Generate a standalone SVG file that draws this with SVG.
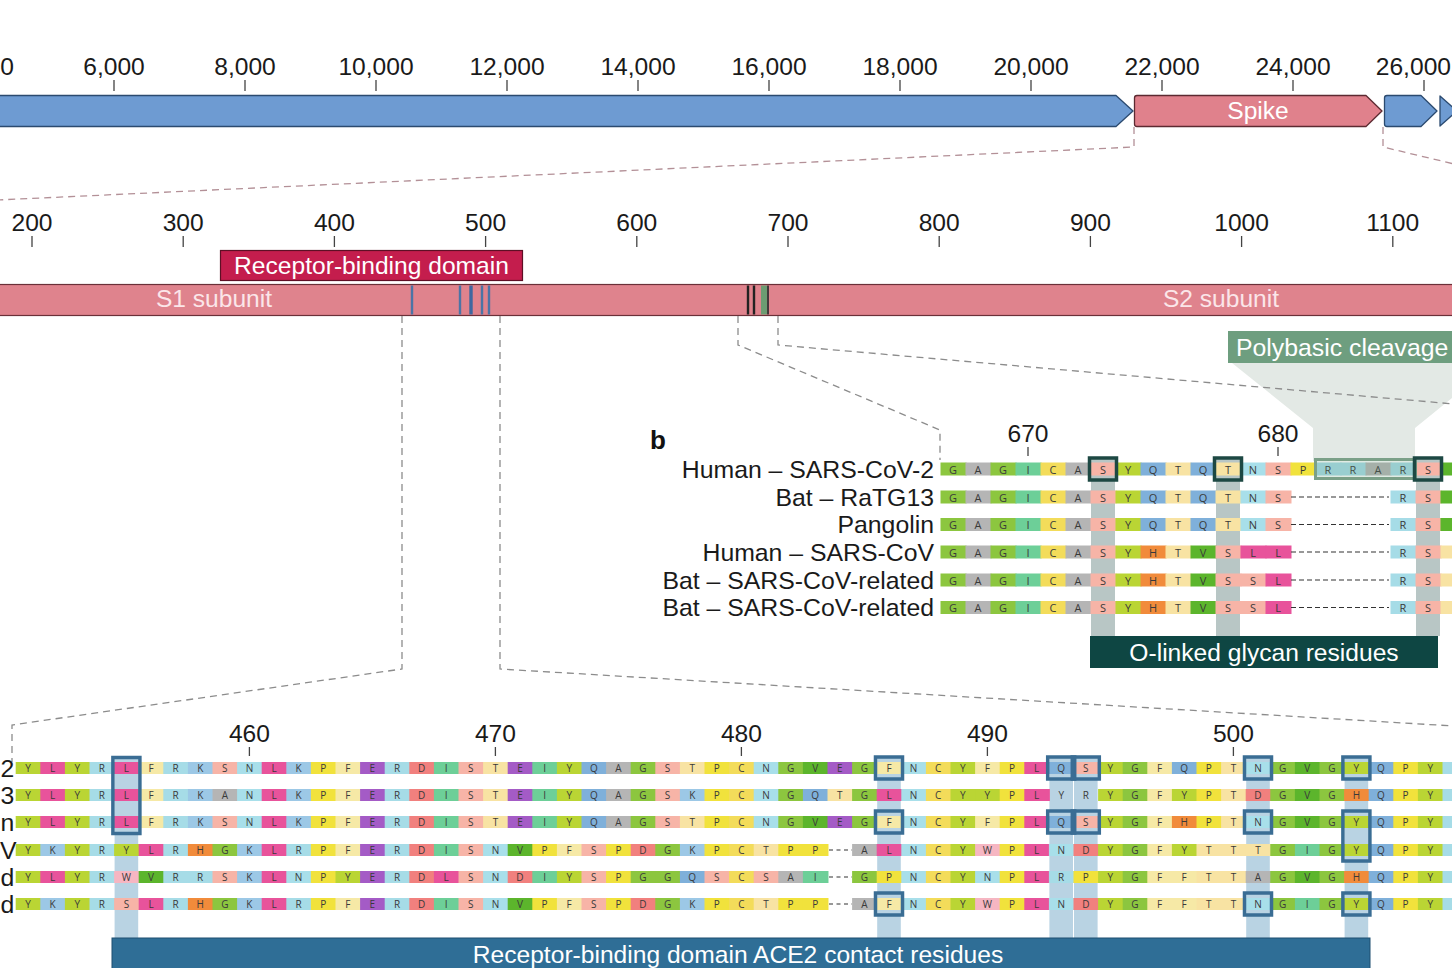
<svg xmlns="http://www.w3.org/2000/svg" width="1452" height="968" viewBox="0 0 1452 968">
<style>
text{font-family:"Liberation Sans",Arial,sans-serif}
.ax{font-size:24.6px;fill:#1a1a1a;text-anchor:middle}
.lab{font-size:24.8px;fill:#1a1a1a;text-anchor:end}
.wt{fill:#ffffff;text-anchor:middle;font-size:24.6px}
.tk{stroke:#444;stroke-width:1.3}
.aa{font-family:"Open Sans","Liberation Sans",sans-serif;font-size:10px;fill:#3a3a3a;text-anchor:middle;dominant-baseline:central}
.ab{font-family:"Open Sans","Liberation Sans",sans-serif;font-size:11px;fill:#3a3a3a;text-anchor:middle;dominant-baseline:central}
.dg{fill:none;stroke:#8c8c8c;stroke-width:1.3;stroke-dasharray:7 5}
.dp{fill:none;stroke:#b39097;stroke-width:1.3;stroke-dasharray:7 5}
.gap{stroke:#333;stroke-width:1.2;stroke-dasharray:5 3}
.rc rect{width:1.04px;height:12px}
.bc rect{width:1.04px;height:13px}
.G{fill:#8cc63f}.A{fill:#b5b5b5}.I{fill:#6dcf98}.C{fill:#f3dc5a}.S{fill:#f7b4a7}
.Y{fill:#bad534}.Q{fill:#7fb0da}.T{fill:#f8e3a3}.N{fill:#a8dfea}.P{fill:#f1e23c}
.R{fill:#a6dce7}.K{fill:#9cc8e6}.H{fill:#f18b3b}.V{fill:#5cb52c}.L{fill:#e8539b}
.E{fill:#a45bc6}.D{fill:#f1807e}.F{fill:#f6e9a6}.W{fill:#f6b6c2}
.gene-b{fill:#6e9bd2;stroke:#2b4a6f;stroke-width:1.3;stroke-linejoin:round}
.gene-s{fill:#e0818c;stroke:#5c2a31;stroke-width:1.3;stroke-linejoin:round}
.ace{fill:none;stroke:#3a6d94;stroke-width:3.5}
.gly{fill:none;stroke:#1d4843;stroke-width:3.5}
</style>

<g id="genome-axis">
<text class="ax" x="14" y="75" style="text-anchor:end">0</text>
<text class="ax" x="114" y="75">6,000</text>
<text class="ax" x="245" y="75">8,000</text>
<text class="ax" x="376" y="75">10,000</text>
<text class="ax" x="507" y="75">12,000</text>
<text class="ax" x="638" y="75">14,000</text>
<text class="ax" x="769" y="75">16,000</text>
<text class="ax" x="900" y="75">18,000</text>
<text class="ax" x="1031" y="75">20,000</text>
<text class="ax" x="1162" y="75">22,000</text>
<text class="ax" x="1293" y="75">24,000</text>
<text class="ax" x="1451" y="75" style="text-anchor:end">26,000</text>
<path class="tk" d="M114,80V91M245,80V91M376,80V91M507,80V91M638,80V91M769,80V91M900,80V91M1031,80V91M1162,80V91M1293,80V91M1424,80V91"/>
</g>

<g id="gene-orf1ab"><path class="gene-b" d="M-5,95.5H1116L1133,111L1116,126.5H-5Z"/></g>
<g id="gene-spike"><path class="gene-s" d="M1137,95.5H1366L1382,111L1366,126.5H1137Q1134.5,126.5 1134.5,124V98Q1134.5,95.5 1137,95.5Z"/><text class="wt" x="1258" y="119">Spike</text></g>
<g id="gene-orf3"><path class="gene-b" d="M1387,95.5H1421L1437,111L1421,126.5H1387Q1384.5,126.5 1384.5,124V98Q1384.5,95.5 1387,95.5Z"/></g>
<g id="gene-next"><path class="gene-b" d="M1440,96L1457,111L1440,126Z"/></g>

<g id="spike-axis">
<text class="ax" x="32" y="231">200</text>
<text class="ax" x="183.2" y="231">300</text>
<text class="ax" x="334.4" y="231">400</text>
<text class="ax" x="485.6" y="231">500</text>
<text class="ax" x="636.8" y="231">600</text>
<text class="ax" x="788" y="231">700</text>
<text class="ax" x="939.2" y="231">800</text>
<text class="ax" x="1090.4" y="231">900</text>
<text class="ax" x="1241.6" y="231">1000</text>
<text class="ax" x="1392.8" y="231">1100</text>
<path class="tk" d="M32,236V247M183.2,236V247M334.4,236V247M485.6,236V247M636.8,236V247M788,236V247M939.2,236V247M1090.4,236V247M1241.6,236V247M1392.8,236V247"/>
</g>

<g id="rbd-label">
<rect x="220.5" y="250.5" width="302" height="30" fill="#c41d4d" stroke="#5e0f25" stroke-width="1.2"/>
<text class="wt" x="371.5" y="273.5">Receptor-binding domain</text>
</g>

<g id="spike-protein">
<rect x="-3" y="284.5" width="1460" height="31" fill="#df838d" stroke="#6a3038" stroke-width="1.2"/>
<text class="wt" x="214" y="306.5" style="fill:#fbe6e9">S1 subunit</text>
<text class="wt" x="1221" y="306.5" style="fill:#fbe6e9">S2 subunit</text>
<path d="M412,285.5V314.5M460,285.5V314.5M482,285.5V314.5M489,285.5V314.5" stroke="#4b74a6" stroke-width="2.4"/>
<path d="M471,285.5V314.5" stroke="#3e67a0" stroke-width="3.4"/>
<path d="M748,285.5V314.5M754,285.5V314.5" stroke="#222" stroke-width="2.4"/>
<rect x="761" y="285.5" width="6" height="29" fill="#6c9c72"/>
<path d="M768,285.5V314.5" stroke="#333" stroke-width="1.8"/>
</g>

<g id="polybasic-label">
<polygon points="1232,363 1313,428 1313,461 1415,461 1415,428 1452,398 1452,363" fill="#e3e9e5"/>
<rect x="1228" y="331" width="232" height="32" fill="#6e9e7f"/>
<text x="1236" y="356" style="font-size:24.8px;fill:#ffffff">Polybasic cleavage</text>
</g>

<g id="connectors">
<path class="dp" d="M1134,127V147L-2,200"/>
<path class="dp" d="M1383,127V147L1454,164"/>
<path class="dg" d="M402,316V669L12,725V762"/>
<path class="dg" d="M500,316V669L1454,726"/>
<path class="dg" d="M738,316V345L940,430V460"/>
<path class="dg" d="M778,316V345L1454,404"/>
</g>

<g id="panel-b">
<text x="650" y="449" style="font-size:26px;font-weight:bold;fill:#111">b</text>
<text class="ax" x="1028" y="442">670</text>
<text class="ax" x="1278" y="442">680</text>
<path class="tk" d="M1028,447V456M1278,447V456"/>
<text class="lab" x="934" y="477.5">Human – SARS-CoV-2</text>
<text class="lab" x="934" y="505.5">Bat – RaTG13</text>
<text class="lab" x="934" y="533">Pangolin</text>
<text class="lab" x="934" y="560.5">Human – SARS-CoV</text>
<text class="lab" x="934" y="588.5">Bat – SARS-CoV-related</text>
<text class="lab" x="934" y="616">Bat – SARS-CoV-related</text>
<g transform="translate(940.5 0) scale(25 1)" fill="#b8c6c5">
<rect x="6.02" y="459" width="0.96" height="177"/>
<rect x="11.02" y="459" width="0.96" height="177"/>
<rect x="19.02" y="459" width="0.96" height="177"/>
</g>
<g class="bc" transform="translate(940.5 462.5) scale(25 1)"><rect class="G" x="0"/><rect class="A" x="1"/><rect class="G" x="2"/><rect class="I" x="3"/><rect class="C" x="4"/><rect class="A" x="5"/><rect class="S" x="6"/><rect class="Y" x="7"/><rect class="Q" x="8"/><rect class="T" x="9"/><rect class="Q" x="10"/><rect class="T" x="11"/><rect class="N" x="12"/><rect class="S" x="13"/><rect class="P" x="14"/><rect class="R" x="15"/><rect class="R" x="16"/><rect class="A" x="17"/><rect class="R" x="18"/><rect class="S" x="19"/><rect class="V" x="20"/></g>
<g class="bc" transform="translate(940.5 490.5) scale(25 1)"><rect class="G" x="0"/><rect class="A" x="1"/><rect class="G" x="2"/><rect class="I" x="3"/><rect class="C" x="4"/><rect class="A" x="5"/><rect class="S" x="6"/><rect class="Y" x="7"/><rect class="Q" x="8"/><rect class="T" x="9"/><rect class="Q" x="10"/><rect class="T" x="11"/><rect class="N" x="12"/><rect class="S" x="13"/><rect class="R" x="18"/><rect class="S" x="19"/><rect class="V" x="20"/></g>
<g class="bc" transform="translate(940.5 518) scale(25 1)"><rect class="G" x="0"/><rect class="A" x="1"/><rect class="G" x="2"/><rect class="I" x="3"/><rect class="C" x="4"/><rect class="A" x="5"/><rect class="S" x="6"/><rect class="Y" x="7"/><rect class="Q" x="8"/><rect class="T" x="9"/><rect class="Q" x="10"/><rect class="T" x="11"/><rect class="N" x="12"/><rect class="S" x="13"/><rect class="R" x="18"/><rect class="S" x="19"/><rect class="V" x="20"/></g>
<g class="bc" transform="translate(940.5 545.5) scale(25 1)"><rect class="G" x="0"/><rect class="A" x="1"/><rect class="G" x="2"/><rect class="I" x="3"/><rect class="C" x="4"/><rect class="A" x="5"/><rect class="S" x="6"/><rect class="Y" x="7"/><rect class="H" x="8"/><rect class="T" x="9"/><rect class="V" x="10"/><rect class="S" x="11"/><rect class="L" x="12"/><rect class="L" x="13"/><rect class="R" x="18"/><rect class="S" x="19"/><rect class="T" x="20"/></g>
<g class="bc" transform="translate(940.5 573.5) scale(25 1)"><rect class="G" x="0"/><rect class="A" x="1"/><rect class="G" x="2"/><rect class="I" x="3"/><rect class="C" x="4"/><rect class="A" x="5"/><rect class="S" x="6"/><rect class="Y" x="7"/><rect class="H" x="8"/><rect class="T" x="9"/><rect class="V" x="10"/><rect class="S" x="11"/><rect class="S" x="12"/><rect class="L" x="13"/><rect class="R" x="18"/><rect class="S" x="19"/><rect class="T" x="20"/></g>
<g class="bc" transform="translate(940.5 601) scale(25 1)"><rect class="G" x="0"/><rect class="A" x="1"/><rect class="G" x="2"/><rect class="I" x="3"/><rect class="C" x="4"/><rect class="A" x="5"/><rect class="S" x="6"/><rect class="Y" x="7"/><rect class="H" x="8"/><rect class="T" x="9"/><rect class="V" x="10"/><rect class="S" x="11"/><rect class="S" x="12"/><rect class="L" x="13"/><rect class="R" x="18"/><rect class="S" x="19"/><rect class="T" x="20"/></g>
<text class="ab" x="953 978 1003 1028 1053 1078 1103 1128 1153 1178 1203 1228 1253 1278 1303 1328 1353 1378 1403 1428" y="469">GAGICASYQTQTNSPRRARS</text>
<text class="ab" x="953 978 1003 1028 1053 1078 1103 1128 1153 1178 1203 1228 1253 1278 1303 1328 1353 1378 1403 1428" y="497">GAGICASYQTQTNS&#160;&#160;&#160;&#160;RS</text>
<text class="ab" x="953 978 1003 1028 1053 1078 1103 1128 1153 1178 1203 1228 1253 1278 1303 1328 1353 1378 1403 1428" y="524.5">GAGICASYQTQTNS&#160;&#160;&#160;&#160;RS</text>
<text class="ab" x="953 978 1003 1028 1053 1078 1103 1128 1153 1178 1203 1228 1253 1278 1303 1328 1353 1378 1403 1428" y="552">GAGICASYHTVSLL&#160;&#160;&#160;&#160;RS</text>
<text class="ab" x="953 978 1003 1028 1053 1078 1103 1128 1153 1178 1203 1228 1253 1278 1303 1328 1353 1378 1403 1428" y="580">GAGICASYHTVSSL&#160;&#160;&#160;&#160;RS</text>
<text class="ab" x="953 978 1003 1028 1053 1078 1103 1128 1153 1178 1203 1228 1253 1278 1303 1328 1353 1378 1403 1428" y="607.5">GAGICASYHTVSSL&#160;&#160;&#160;&#160;RS</text>
<path class="gap" d="M1291,497H1389M1291,524.5H1389M1291,552H1389M1291,580H1389M1291,607.5H1389"/>
<rect x="1315.5" y="459.5" width="100" height="19" fill="#6e9e7f" fill-opacity="0.22" stroke="#7ba088" stroke-width="3"/>
<rect class="gly" x="1089.5" y="458" width="27" height="22"/>
<rect class="gly" x="1214.5" y="458" width="27" height="22"/>
<rect class="gly" x="1414.5" y="458" width="27" height="22"/>
</g>

<g id="glycan-label">
<rect x="1090" y="636" width="348" height="32" fill="#0e4643"/>
<text class="wt" x="1264" y="660.5">O-linked glycan residues</text>
</g>

<g id="rbd-alignment">
<text class="ax" x="249.4" y="742">460</text>
<text class="ax" x="495.4" y="742">470</text>
<text class="ax" x="741.4" y="742">480</text>
<text class="ax" x="987.4" y="742">490</text>
<text class="ax" x="1233.4" y="742">500</text>
<path class="tk" d="M249.4,747V756M495.4,747V756M741.4,747V756M987.4,747V756M1233.4,747V756"/>
<text class="lab" x="0.5" y="776.5" style="text-anchor:start">2</text>
<text class="lab" x="0.5" y="803.5" style="text-anchor:start">3</text>
<text class="lab" x="0.5" y="830.5" style="text-anchor:start">n</text>
<text class="lab" x="0" y="858.5" style="text-anchor:start">V</text>
<text class="lab" x="0.5" y="885.5" style="text-anchor:start">d</text>
<text class="lab" x="0.5" y="912.5" style="text-anchor:start">d</text>
<g transform="translate(15.7 0) scale(24.6 1)" fill="#b9d3e3">
<rect x="4.02" y="758" width="0.96" height="182"/>
<rect x="35.02" y="758" width="0.96" height="182"/>
<rect x="42.02" y="758" width="0.96" height="182"/>
<rect x="43.02" y="758" width="0.96" height="182"/>
<rect x="50.02" y="758" width="0.96" height="182"/>
<rect x="54.02" y="758" width="0.96" height="182"/>
</g>
<g class="rc" transform="translate(15.7 762) scale(24.6 1)"><rect class="Y" x="0"/><rect class="L" x="1"/><rect class="Y" x="2"/><rect class="R" x="3"/><rect class="L" x="4"/><rect class="F" x="5"/><rect class="R" x="6"/><rect class="K" x="7"/><rect class="S" x="8"/><rect class="N" x="9"/><rect class="L" x="10"/><rect class="K" x="11"/><rect class="P" x="12"/><rect class="F" x="13"/><rect class="E" x="14"/><rect class="R" x="15"/><rect class="D" x="16"/><rect class="I" x="17"/><rect class="S" x="18"/><rect class="T" x="19"/><rect class="E" x="20"/><rect class="I" x="21"/><rect class="Y" x="22"/><rect class="Q" x="23"/><rect class="A" x="24"/><rect class="G" x="25"/><rect class="S" x="26"/><rect class="T" x="27"/><rect class="P" x="28"/><rect class="C" x="29"/><rect class="N" x="30"/><rect class="G" x="31"/><rect class="V" x="32"/><rect class="E" x="33"/><rect class="G" x="34"/><rect class="F" x="35"/><rect class="N" x="36"/><rect class="C" x="37"/><rect class="Y" x="38"/><rect class="F" x="39"/><rect class="P" x="40"/><rect class="L" x="41"/><rect class="Q" x="42"/><rect class="S" x="43"/><rect class="Y" x="44"/><rect class="G" x="45"/><rect class="F" x="46"/><rect class="Q" x="47"/><rect class="P" x="48"/><rect class="T" x="49"/><rect class="N" x="50"/><rect class="G" x="51"/><rect class="V" x="52"/><rect class="G" x="53"/><rect class="Y" x="54"/><rect class="Q" x="55"/><rect class="P" x="56"/><rect class="Y" x="57"/><rect class="R" x="58"/></g>
<g class="rc" transform="translate(15.7 789) scale(24.6 1)"><rect class="Y" x="0"/><rect class="L" x="1"/><rect class="Y" x="2"/><rect class="R" x="3"/><rect class="L" x="4"/><rect class="F" x="5"/><rect class="R" x="6"/><rect class="K" x="7"/><rect class="A" x="8"/><rect class="N" x="9"/><rect class="L" x="10"/><rect class="K" x="11"/><rect class="P" x="12"/><rect class="F" x="13"/><rect class="E" x="14"/><rect class="R" x="15"/><rect class="D" x="16"/><rect class="I" x="17"/><rect class="S" x="18"/><rect class="T" x="19"/><rect class="E" x="20"/><rect class="I" x="21"/><rect class="Y" x="22"/><rect class="Q" x="23"/><rect class="A" x="24"/><rect class="G" x="25"/><rect class="S" x="26"/><rect class="K" x="27"/><rect class="P" x="28"/><rect class="C" x="29"/><rect class="N" x="30"/><rect class="G" x="31"/><rect class="Q" x="32"/><rect class="T" x="33"/><rect class="G" x="34"/><rect class="L" x="35"/><rect class="N" x="36"/><rect class="C" x="37"/><rect class="Y" x="38"/><rect class="Y" x="39"/><rect class="P" x="40"/><rect class="L" x="41"/><rect class="Y" x="44"/><rect class="G" x="45"/><rect class="F" x="46"/><rect class="Y" x="47"/><rect class="P" x="48"/><rect class="T" x="49"/><rect class="D" x="50"/><rect class="G" x="51"/><rect class="V" x="52"/><rect class="G" x="53"/><rect class="H" x="54"/><rect class="Q" x="55"/><rect class="P" x="56"/><rect class="Y" x="57"/><rect class="R" x="58"/></g>
<g class="rc" transform="translate(15.7 816) scale(24.6 1)"><rect class="Y" x="0"/><rect class="L" x="1"/><rect class="Y" x="2"/><rect class="R" x="3"/><rect class="L" x="4"/><rect class="F" x="5"/><rect class="R" x="6"/><rect class="K" x="7"/><rect class="S" x="8"/><rect class="N" x="9"/><rect class="L" x="10"/><rect class="K" x="11"/><rect class="P" x="12"/><rect class="F" x="13"/><rect class="E" x="14"/><rect class="R" x="15"/><rect class="D" x="16"/><rect class="I" x="17"/><rect class="S" x="18"/><rect class="T" x="19"/><rect class="E" x="20"/><rect class="I" x="21"/><rect class="Y" x="22"/><rect class="Q" x="23"/><rect class="A" x="24"/><rect class="G" x="25"/><rect class="S" x="26"/><rect class="T" x="27"/><rect class="P" x="28"/><rect class="C" x="29"/><rect class="N" x="30"/><rect class="G" x="31"/><rect class="V" x="32"/><rect class="E" x="33"/><rect class="G" x="34"/><rect class="F" x="35"/><rect class="N" x="36"/><rect class="C" x="37"/><rect class="Y" x="38"/><rect class="F" x="39"/><rect class="P" x="40"/><rect class="L" x="41"/><rect class="Q" x="42"/><rect class="S" x="43"/><rect class="Y" x="44"/><rect class="G" x="45"/><rect class="F" x="46"/><rect class="H" x="47"/><rect class="P" x="48"/><rect class="T" x="49"/><rect class="N" x="50"/><rect class="G" x="51"/><rect class="V" x="52"/><rect class="G" x="53"/><rect class="Y" x="54"/><rect class="Q" x="55"/><rect class="P" x="56"/><rect class="Y" x="57"/><rect class="R" x="58"/></g>
<g class="rc" transform="translate(15.7 844) scale(24.6 1)"><rect class="Y" x="0"/><rect class="K" x="1"/><rect class="Y" x="2"/><rect class="R" x="3"/><rect class="Y" x="4"/><rect class="L" x="5"/><rect class="R" x="6"/><rect class="H" x="7"/><rect class="G" x="8"/><rect class="K" x="9"/><rect class="L" x="10"/><rect class="R" x="11"/><rect class="P" x="12"/><rect class="F" x="13"/><rect class="E" x="14"/><rect class="R" x="15"/><rect class="D" x="16"/><rect class="I" x="17"/><rect class="S" x="18"/><rect class="N" x="19"/><rect class="V" x="20"/><rect class="P" x="21"/><rect class="F" x="22"/><rect class="S" x="23"/><rect class="P" x="24"/><rect class="D" x="25"/><rect class="G" x="26"/><rect class="K" x="27"/><rect class="P" x="28"/><rect class="C" x="29"/><rect class="T" x="30"/><rect class="P" x="31"/><rect class="P" x="32"/><rect class="A" x="34"/><rect class="L" x="35"/><rect class="N" x="36"/><rect class="C" x="37"/><rect class="Y" x="38"/><rect class="W" x="39"/><rect class="P" x="40"/><rect class="L" x="41"/><rect class="N" x="42"/><rect class="D" x="43"/><rect class="Y" x="44"/><rect class="G" x="45"/><rect class="F" x="46"/><rect class="Y" x="47"/><rect class="T" x="48"/><rect class="T" x="49"/><rect class="T" x="50"/><rect class="G" x="51"/><rect class="I" x="52"/><rect class="G" x="53"/><rect class="Y" x="54"/><rect class="Q" x="55"/><rect class="P" x="56"/><rect class="Y" x="57"/><rect class="R" x="58"/></g>
<g class="rc" transform="translate(15.7 871) scale(24.6 1)"><rect class="Y" x="0"/><rect class="L" x="1"/><rect class="Y" x="2"/><rect class="R" x="3"/><rect class="W" x="4"/><rect class="V" x="5"/><rect class="R" x="6"/><rect class="R" x="7"/><rect class="S" x="8"/><rect class="K" x="9"/><rect class="L" x="10"/><rect class="N" x="11"/><rect class="P" x="12"/><rect class="Y" x="13"/><rect class="E" x="14"/><rect class="R" x="15"/><rect class="D" x="16"/><rect class="L" x="17"/><rect class="S" x="18"/><rect class="N" x="19"/><rect class="D" x="20"/><rect class="I" x="21"/><rect class="Y" x="22"/><rect class="S" x="23"/><rect class="P" x="24"/><rect class="G" x="25"/><rect class="G" x="26"/><rect class="Q" x="27"/><rect class="S" x="28"/><rect class="C" x="29"/><rect class="S" x="30"/><rect class="A" x="31"/><rect class="I" x="32"/><rect class="G" x="34"/><rect class="P" x="35"/><rect class="N" x="36"/><rect class="C" x="37"/><rect class="Y" x="38"/><rect class="N" x="39"/><rect class="P" x="40"/><rect class="L" x="41"/><rect class="R" x="42"/><rect class="P" x="43"/><rect class="Y" x="44"/><rect class="G" x="45"/><rect class="F" x="46"/><rect class="F" x="47"/><rect class="T" x="48"/><rect class="T" x="49"/><rect class="A" x="50"/><rect class="G" x="51"/><rect class="V" x="52"/><rect class="G" x="53"/><rect class="H" x="54"/><rect class="Q" x="55"/><rect class="P" x="56"/><rect class="Y" x="57"/><rect class="R" x="58"/></g>
<g class="rc" transform="translate(15.7 898) scale(24.6 1)"><rect class="Y" x="0"/><rect class="K" x="1"/><rect class="Y" x="2"/><rect class="R" x="3"/><rect class="S" x="4"/><rect class="L" x="5"/><rect class="R" x="6"/><rect class="H" x="7"/><rect class="G" x="8"/><rect class="K" x="9"/><rect class="L" x="10"/><rect class="R" x="11"/><rect class="P" x="12"/><rect class="F" x="13"/><rect class="E" x="14"/><rect class="R" x="15"/><rect class="D" x="16"/><rect class="I" x="17"/><rect class="S" x="18"/><rect class="N" x="19"/><rect class="V" x="20"/><rect class="P" x="21"/><rect class="F" x="22"/><rect class="S" x="23"/><rect class="P" x="24"/><rect class="D" x="25"/><rect class="G" x="26"/><rect class="K" x="27"/><rect class="P" x="28"/><rect class="C" x="29"/><rect class="T" x="30"/><rect class="P" x="31"/><rect class="P" x="32"/><rect class="A" x="34"/><rect class="F" x="35"/><rect class="N" x="36"/><rect class="C" x="37"/><rect class="Y" x="38"/><rect class="W" x="39"/><rect class="P" x="40"/><rect class="L" x="41"/><rect class="N" x="42"/><rect class="D" x="43"/><rect class="Y" x="44"/><rect class="G" x="45"/><rect class="F" x="46"/><rect class="F" x="47"/><rect class="T" x="48"/><rect class="T" x="49"/><rect class="N" x="50"/><rect class="G" x="51"/><rect class="I" x="52"/><rect class="G" x="53"/><rect class="Y" x="54"/><rect class="Q" x="55"/><rect class="P" x="56"/><rect class="Y" x="57"/><rect class="R" x="58"/></g>
<text class="aa" x="28 52.6 77.2 101.8 126.4 151 175.6 200.2 224.8 249.4 274 298.6 323.2 347.8 372.4 397 421.6 446.2 470.8 495.4 520 544.6 569.2 593.8 618.4 643 667.6 692.2 716.8 741.4 766 790.6 815.2 839.8 864.4 889 913.6 938.2 962.8 987.4 1012 1036.6 1061.2 1085.8 1110.4 1135 1159.6 1184.2 1208.8 1233.4 1258 1282.6 1307.2 1331.8 1356.4 1381 1405.6 1430.2" y="768">YLYRLFRKSNLKPFERDISTEIYQAGSTPCNGVEGFNCYFPLQSYGFQPTNGVGYQPY</text>
<text class="aa" x="28 52.6 77.2 101.8 126.4 151 175.6 200.2 224.8 249.4 274 298.6 323.2 347.8 372.4 397 421.6 446.2 470.8 495.4 520 544.6 569.2 593.8 618.4 643 667.6 692.2 716.8 741.4 766 790.6 815.2 839.8 864.4 889 913.6 938.2 962.8 987.4 1012 1036.6 1061.2 1085.8 1110.4 1135 1159.6 1184.2 1208.8 1233.4 1258 1282.6 1307.2 1331.8 1356.4 1381 1405.6 1430.2" y="795">YLYRLFRKANLKPFERDISTEIYQAGSKPCNGQTGLNCYYPLYRYGFYPTDGVGHQPY</text>
<text class="aa" x="28 52.6 77.2 101.8 126.4 151 175.6 200.2 224.8 249.4 274 298.6 323.2 347.8 372.4 397 421.6 446.2 470.8 495.4 520 544.6 569.2 593.8 618.4 643 667.6 692.2 716.8 741.4 766 790.6 815.2 839.8 864.4 889 913.6 938.2 962.8 987.4 1012 1036.6 1061.2 1085.8 1110.4 1135 1159.6 1184.2 1208.8 1233.4 1258 1282.6 1307.2 1331.8 1356.4 1381 1405.6 1430.2" y="822">YLYRLFRKSNLKPFERDISTEIYQAGSTPCNGVEGFNCYFPLQSYGFHPTNGVGYQPY</text>
<text class="aa" x="28 52.6 77.2 101.8 126.4 151 175.6 200.2 224.8 249.4 274 298.6 323.2 347.8 372.4 397 421.6 446.2 470.8 495.4 520 544.6 569.2 593.8 618.4 643 667.6 692.2 716.8 741.4 766 790.6 815.2 839.8 864.4 889 913.6 938.2 962.8 987.4 1012 1036.6 1061.2 1085.8 1110.4 1135 1159.6 1184.2 1208.8 1233.4 1258 1282.6 1307.2 1331.8 1356.4 1381 1405.6 1430.2" y="850">YKYRYLRHGKLRPFERDISNVPFSPDGKPCTPP&#160;ALNCYWPLNDYGFYTTTGIGYQPY</text>
<text class="aa" x="28 52.6 77.2 101.8 126.4 151 175.6 200.2 224.8 249.4 274 298.6 323.2 347.8 372.4 397 421.6 446.2 470.8 495.4 520 544.6 569.2 593.8 618.4 643 667.6 692.2 716.8 741.4 766 790.6 815.2 839.8 864.4 889 913.6 938.2 962.8 987.4 1012 1036.6 1061.2 1085.8 1110.4 1135 1159.6 1184.2 1208.8 1233.4 1258 1282.6 1307.2 1331.8 1356.4 1381 1405.6 1430.2" y="877">YLYRWVRRSKLNPYERDLSNDIYSPGGQSCSAI&#160;GPNCYNPLRPYGFFTTAGVGHQPY</text>
<text class="aa" x="28 52.6 77.2 101.8 126.4 151 175.6 200.2 224.8 249.4 274 298.6 323.2 347.8 372.4 397 421.6 446.2 470.8 495.4 520 544.6 569.2 593.8 618.4 643 667.6 692.2 716.8 741.4 766 790.6 815.2 839.8 864.4 889 913.6 938.2 962.8 987.4 1012 1036.6 1061.2 1085.8 1110.4 1135 1159.6 1184.2 1208.8 1233.4 1258 1282.6 1307.2 1331.8 1356.4 1381 1405.6 1430.2" y="904">YKYRSLRHGKLRPFERDISNVPFSPDGKPCTPP&#160;AFNCYWPLNDYGFFTTNGIGYQPY</text>
<path class="gap" d="M829,850H852M829,877H852M829,904H852" style="stroke-dasharray:4 3.5"/>
<rect class="ace" x="112.9" y="757.5" width="27" height="76"/>
<rect class="ace" x="875.5" y="757" width="27" height="22"/>
<rect class="ace" x="875.5" y="811" width="27" height="22"/>
<rect class="ace" x="875.5" y="893" width="27" height="22"/>
<rect class="ace" x="1047.7" y="757" width="27" height="22"/>
<rect class="ace" x="1072.3" y="757" width="27" height="22"/>
<rect class="ace" x="1047.7" y="811" width="27" height="22"/>
<rect class="ace" x="1072.3" y="811" width="27" height="22"/>
<rect class="ace" x="1244.5" y="757" width="27" height="22"/>
<rect class="ace" x="1244.5" y="811" width="27" height="22"/>
<rect class="ace" x="1244.5" y="893" width="27" height="22"/>
<rect class="ace" x="1342.9" y="757" width="27" height="22"/>
<rect class="ace" x="1342.9" y="811" width="27" height="50"/>
<rect class="ace" x="1342.9" y="893" width="27" height="22"/>
</g>

<g id="ace2-label">
<rect x="112" y="938" width="1258" height="34" fill="#2f6e96" stroke="#1e4f70" stroke-width="1"/>
<text class="wt" x="738" y="962.5">Receptor-binding domain ACE2 contact residues</text>
</g>
</svg>
